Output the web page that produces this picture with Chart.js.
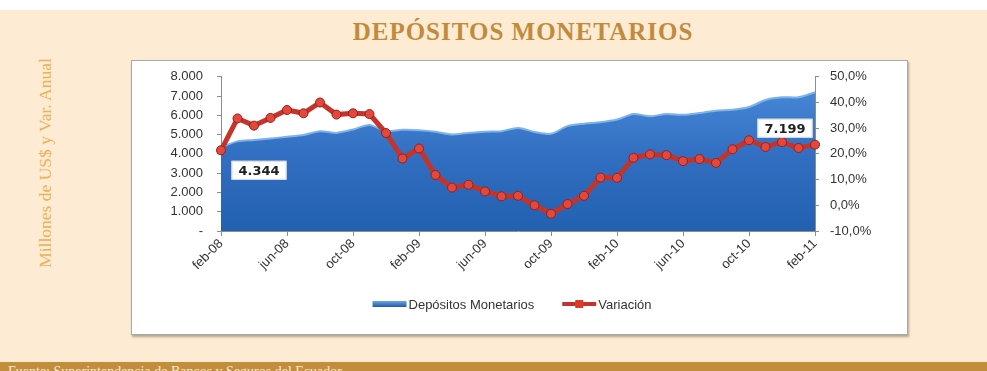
<!DOCTYPE html>
<html>
<head>
<meta charset="utf-8">
<script src="https://cdn.jsdelivr.net/npm/chart.js@4.4.0/dist/chart.umd.min.js"></script>
<style>
  html, body { margin: 0; padding: 0; background: #fff; }
  #page { position: relative; width: 987px; height: 371px; overflow: hidden; background: #fff; }
  #cream { position: absolute; left: 0; top: 10px; width: 987px; height: 352px; background: #fdebd3; }
  #title { position: absolute; left: 0; top: 18px; width: 1046px; text-align: center;
    font-family: "Liberation Serif", "DejaVu Serif", serif; font-size: 25px; font-weight: bold;
    color: #c28b3b; letter-spacing: 1px; }
  #ytitle { position: absolute; left: 45px; top: 163px; transform: translate(-50%, -50%) rotate(-90deg);
    white-space: nowrap; font-family: "Liberation Serif", serif; font-size: 17.5px; color: #e9b357; }
  #box { position: absolute; left: 131px; top: 60px; width: 775px; height: 273px; background: #fff;
    border: 1px solid #a9a9a9; box-shadow: 1px 2px 2px rgba(120,110,90,0.55); overflow: hidden; }
  #box canvas { margin-top: -6px; }
  #footer { position: absolute; left: 0; top: 362px; width: 987px; height: 9px; background: #c38e3c; }
  #footer span { position: absolute; left: 8px; top: 2px; white-space: nowrap;
    font-family: "Liberation Serif", serif; font-size: 14px; color: #fbe9cc; }
  canvas { display: block; }
</style>
</head>
<body>
<div id="page">
  <div id="cream"></div>
  <div id="title">DEPÓSITOS MONETARIOS</div>
  <div id="ytitle">Millones de US$ y Var. Anual</div>
  <div id="box"><canvas id="chart" width="775" height="279"></canvas></div>
  <div id="footer"><span>Fuente: Superintendencia de Bancos y Seguros del Ecuador</span></div>
</div>
<script>
// meses feb-08 .. feb-11
const months = [
  'feb-08','mar-08','abr-08','may-08','jun-08','jul-08','ago-08','sep-08','oct-08','nov-08','dic-08',
  'ene-09','feb-09','mar-09','abr-09','may-09','jun-09','jul-09','ago-09','sep-09','oct-09','nov-09','dic-09',
  'ene-10','feb-10','mar-10','abr-10','may-10','jun-10','jul-10','ago-10','sep-10','oct-10','nov-10','dic-10',
  'ene-11','feb-11'
];

// millones de US$
const depositos = [
  4344, 4650, 4720, 4800, 4890, 4980, 5180, 5090, 5265, 5500, 5180,
  5250, 5230, 5150, 5010, 5090, 5150, 5180, 5350, 5140, 5040, 5440, 5570,
  5640, 5780, 6070, 5950, 6070, 6030, 6120, 6240, 6290, 6430, 6800, 6940,
  6940, 7199
];

// variación anual %
const variacion = [
  21.4, 33.8, 31.0, 34.0, 37.1, 35.8, 40.0, 35.3, 35.8, 35.5, 28.1,
  18.2, 22.1, 11.8, 6.9, 8.0, 5.4, 3.5, 3.7, 0.0, -3.3, 0.5, 3.7,
  10.8, 10.7, 18.5, 19.8, 19.5, 17.2, 18.0, 16.5, 21.8, 25.3, 22.7, 24.6,
  22.3, 23.6
];

const leftTicks = [0, 1000, 2000, 3000, 4000, 5000, 6000, 7000, 8000];
const rightTicks = [-10, 0, 10, 20, 30, 40, 50];

const BLUE = '#3572c4';
const RED = '#c4342b';
const tickFont = { family: 'Liberation Sans, Arial, sans-serif', size: 13 };
const axisColor = '#8c8c8c';

const fmtMiles = v => v === 0 ? '-' : v.toLocaleString('de-DE');
const fmtPct = v => v.toFixed(1).replace('.', ',') + '%';

// etiquetas del primer y último valor de depósitos
const endLabels = {
  id: 'endLabels',
  afterDatasetsDraw(chart) {
    const { ctx } = chart;
    const pts = chart.getDatasetMeta(0).data;
    const last = depositos.length - 1;
    const items = [
      { i: 0, dx: 38, dy: 23 },
      { i: last, dx: -30, dy: 36 }
    ];
    ctx.save();
    ctx.font = 'bold 13px "DejaVu Sans", Verdana, sans-serif';
    ctx.textAlign = 'center';
    ctx.textBaseline = 'middle';
    items.forEach(it => {
      const p = pts[it.i];
      const txt = fmtMiles(depositos[it.i]);
      const cx = p.x + it.dx, cy = p.y + it.dy;
      const w = ctx.measureText(txt).width + 14, h = 19;
      ctx.fillStyle = '#ffffff';
      ctx.fillRect(cx - w / 2, cy - h / 2, w, h);
      ctx.strokeStyle = '#d8d8d8';
      ctx.lineWidth = 1;
      ctx.strokeRect(cx - w / 2 + 0.5, cy - h / 2 + 0.5, w - 1, h - 1);
      ctx.fillStyle = '#222';
      ctx.fillText(txt, cx, cy + 1);
    });
    ctx.restore();
  }
};

// leyenda inferior: barra azul para el área, línea roja con marcador para la variación
const bottomLegend = {
  id: 'bottomLegend',
  afterDraw(chart) {
    const { ctx, chartArea } = chart;
    const y = chartArea.bottom + 73;
    const sw = 34, gap = 2, between = 28;
    ctx.save();
    ctx.font = '13px "Liberation Sans", Arial, sans-serif';
    ctx.textBaseline = 'middle';
    const names = chart.data.datasets.map(d => d.label);
    const widths = names.map(n => sw + gap + ctx.measureText(n).width);
    const total = widths[0] + between + widths[1];
    let x = (chartArea.left + chartArea.right) / 2 - 6 - total / 2;

    const g = ctx.createLinearGradient(0, y - 3, 0, y + 3);
    g.addColorStop(0, '#6fa5e6');
    g.addColorStop(1, '#1f5aa5');
    ctx.fillStyle = g;
    ctx.fillRect(x, y - 3, sw, 6);
    ctx.fillStyle = '#333';
    ctx.fillText(names[0], x + sw + gap, y + 1);
    x += widths[0] + between;

    ctx.strokeStyle = RED;
    ctx.lineWidth = 4;
    ctx.beginPath();
    ctx.moveTo(x, y);
    ctx.lineTo(x + sw, y);
    ctx.stroke();
    ctx.fillStyle = '#d93b30';
    ctx.fillRect(x + sw / 2 - 4, y - 4, 8, 8);
    ctx.fillStyle = '#333';
    ctx.fillText(names[1], x + sw + gap, y + 1);
    ctx.restore();
  }
};

const ctx = document.getElementById('chart').getContext('2d');

new Chart(ctx, {
  data: {
    labels: months,
    datasets: [
      {
        type: 'line',
        label: 'Depósitos Monetarios',
        data: depositos,
        yAxisID: 'y',
        order: 2,
        fill: 'origin',
        borderColor: '#7db3ea',
        borderWidth: 2,
        pointRadius: 0,
        tension: 0.3,
        backgroundColor(c) {
          const area = c.chart.chartArea;
          if (!area) return BLUE;
          const g = c.chart.ctx.createLinearGradient(0, area.top, 0, area.bottom);
          g.addColorStop(0, '#4b8cda');
          g.addColorStop(0.5, '#326fc2');
          g.addColorStop(1, '#2260b0');
          return g;
        }
      },
      {
        type: 'line',
        label: 'Variación',
        data: variacion,
        yAxisID: 'y1',
        order: 1,
        fill: false,
        borderColor: RED,
        backgroundColor: RED,
        borderWidth: 5,
        tension: 0,
        pointRadius: 4.5,
        pointBackgroundColor: '#e2493c',
        pointBorderColor: '#9c1d18',
        pointBorderWidth: 1
      }
    ]
  },
  options: {
    responsive: false,
    animation: false,
    layout: { padding: { top: 9, right: 0, bottom: 44, left: 0 } },
    plugins: {
      tooltip: { enabled: false },
      legend: { display: false }
    },
    scales: {
      x: {
        offset: false,
        grid: {
          drawOnChartArea: false,
          drawTicks: true,
          tickLength: 5,
          color: c => (c.index % 4 === 0 ? axisColor : 'rgba(0,0,0,0)')
        },
        border: { color: axisColor },
        ticks: {
          autoSkip: false,
          maxRotation: 45,
          minRotation: 45,
          color: '#333',
          font: tickFont,
          padding: 0,
          callback: (v, i) => (i % 4 === 0 ? months[i] : '')
        },
        afterFit(s) { s.height = 59; }
      },
      y: {
        position: 'left',
        min: 0,
        max: 8000,
        afterBuildTicks(s) { s.ticks = leftTicks.map(v => ({ value: v })); },
        grid: { drawOnChartArea: false, tickLength: 4, color: axisColor },
        border: { color: axisColor },
        ticks: { color: '#333', font: tickFont, padding: 14, callback: v => fmtMiles(v) },
        afterFit(s) { s.width = 89; }
      },
      y1: {
        position: 'right',
        min: -10,
        max: 50,
        afterBuildTicks(s) { s.ticks = rightTicks.map(v => ({ value: v })); },
        grid: { drawOnChartArea: false, tickLength: 4, color: axisColor },
        border: { color: axisColor },
        ticks: { color: '#333', font: tickFont, padding: 11, callback: v => fmtPct(v) },
        afterFit(s) { s.width = 92; }
      }
    }
  },
  plugins: [endLabels, bottomLegend]
});
</script>
</body>
</html>
